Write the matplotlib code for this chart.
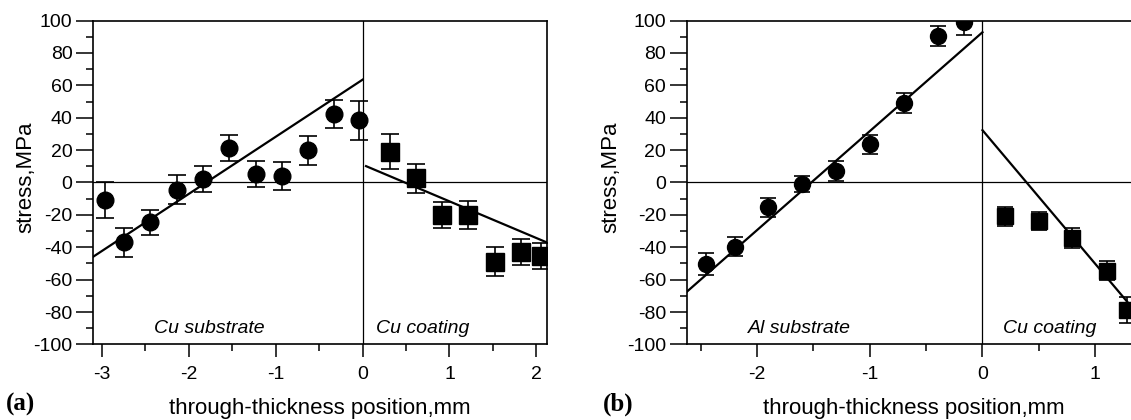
import matplotlib
matplotlib.use("Agg")
import matplotlib.pyplot as plt
from matplotlib.ticker import MultipleLocator

plt.rcParams['font.family'] = ['Liberation Sans', 'DejaVu Sans']
plt.rcParams['axes.unicode_minus'] = False

# (a) Cu substrate / Cu coating
xa_sub = [-2.96, -2.75, -2.45, -2.14, -1.84, -1.54, -1.23, -0.93, -0.63, -0.33, -0.04]
ya_sub = [-10.7, -36.9, -24.7, -4.5, 2.3, 21.2, 5.2, 3.9, 19.8, 42.3, 38.4]
ea_sub = [11, 9, 8, 9, 8, 8, 8, 8.5, 8.7, 8.5, 12]
xa_coat = [0.32, 0.62, 0.92, 1.21, 1.52, 1.82, 2.05]
ya_coat = [18.9, 2.5, -20.2, -20.2, -49.0, -42.8, -45.3]
ea_coat = [10.8, 8.7, 8, 8.5, 9, 8, 8]
fit_a_sub_x = [-3.10, 0.0]
fit_a_sub_y = [-45.8, 63.5]
fit_a_coat_x = [0.04, 2.12]
fit_a_coat_y = [10.1, -37.0]

# (b) Al substrate / Cu coating
xb_sub = [-2.45, -2.19, -1.90, -1.60, -1.30, -1.00, -0.70, -0.39, -0.16]
yb_sub = [-50.3, -39.6, -15.3, -0.8, 7.2, 23.5, 49.2, 90.4, 99.0]
eb_sub = [7, 6, 6, 5, 6, 6, 6, 6, 8]
xb_coat = [0.20, 0.50, 0.79, 1.10, 1.28]
yb_coat = [-21.0, -23.8, -34.2, -54.4, -78.5]
eb_coat = [6, 5.5, 6, 6, 8]
fit_b_sub_x = [-2.62, 0.0]
fit_b_sub_y = [-67.4, 92.8]
fit_b_coat_x = [0.0, 1.4]
fit_b_coat_y = [32.3, -83.3]

fig = plt.figure(figsize=(11.31, 4.2), dpi=100)
ax1 = fig.add_axes([0.0825, 0.180, 0.4009, 0.771])
ax2 = fig.add_axes([0.6074, 0.180, 0.4009, 0.771])


def style(ax, xlim, ylab_x):
    ax.set_xlim(*xlim)
    ax.set_ylim(-100, 100)
    ax.axhline(0, color='black', lw=0.9, zorder=1)
    ax.axvline(0, color='black', lw=0.9, zorder=1)
    ax.xaxis.set_major_locator(MultipleLocator(1))
    ax.xaxis.set_minor_locator(MultipleLocator(0.5))
    ax.yaxis.set_major_locator(MultipleLocator(20))
    ax.yaxis.set_minor_locator(MultipleLocator(10))
    ax.tick_params(axis='y', which='major', direction='out', length=12, width=1.1,
                   labelsize=14, pad=3)
    ax.tick_params(axis='y', which='minor', direction='out', length=5, width=1.1)
    ax.tick_params(axis='x', which='major', direction='out', length=9.5, width=1.1,
                   labelsize=14, pad=6)
    ax.tick_params(axis='x', which='minor', direction='out', length=5, width=1.1)
    for s in ax.spines.values():
        s.set_linewidth(1.2)
    ax.set_ylabel('stress,MPa', fontsize=16)
    ax.yaxis.set_label_coords(ylab_x, 0.515)
    ax.set_xlabel('through-thickness position,mm', fontsize=16)
    ax.xaxis.set_label_coords(0.5, -0.165)


style(ax1, (-3.10, 2.12), -0.125)
style(ax2, (-2.62, 1.40), -0.145)

eb_kw = dict(color='black', ecolor='black', elinewidth=1.2, capthick=1.2, ls='none', zorder=3)

ax1.plot(fit_a_sub_x, fit_a_sub_y, color='black', lw=1.6, zorder=2)
ax1.plot(fit_a_coat_x, fit_a_coat_y, color='black', lw=1.6, zorder=2)
ax1.errorbar(xa_sub, ya_sub, yerr=ea_sub, fmt='o', ms=12, capsize=6.3, **eb_kw)
ax1.errorbar(xa_coat, ya_coat, yerr=ea_coat, fmt='s', ms=12.5, capsize=6.3, **eb_kw)
ax1.text(-1.77, -93, 'Cu substrate', style='italic', fontsize=14, ha='center', va='baseline')
ax1.text(0.69, -93, 'Cu coating', style='italic', fontsize=14, ha='center', va='baseline')

ax2.plot(fit_b_sub_x, fit_b_sub_y, color='black', lw=1.6, zorder=2)
ax2.plot(fit_b_coat_x, fit_b_coat_y, color='black', lw=1.6, zorder=2)
ax2.errorbar(xb_sub, yb_sub, yerr=eb_sub, fmt='o', ms=11.5, capsize=5.5, **eb_kw)
ax2.errorbar(xb_coat, yb_coat, yerr=eb_coat, fmt='s', ms=11.5, capsize=5.5, **eb_kw)
ax2.text(-1.62, -93, 'Al substrate', style='italic', fontsize=14, ha='center', va='baseline')
ax2.text(0.60, -93, 'Cu coating', style='italic', fontsize=14, ha='center', va='baseline')

fig.text(0.005, 0.038, '(a)', family='Liberation Serif', fontweight='bold', fontsize=18, va='center')
fig.text(0.533, 0.038, '(b)', family='Liberation Serif', fontweight='bold', fontsize=18, va='center')

fig.savefig('out.png', dpi=100)
